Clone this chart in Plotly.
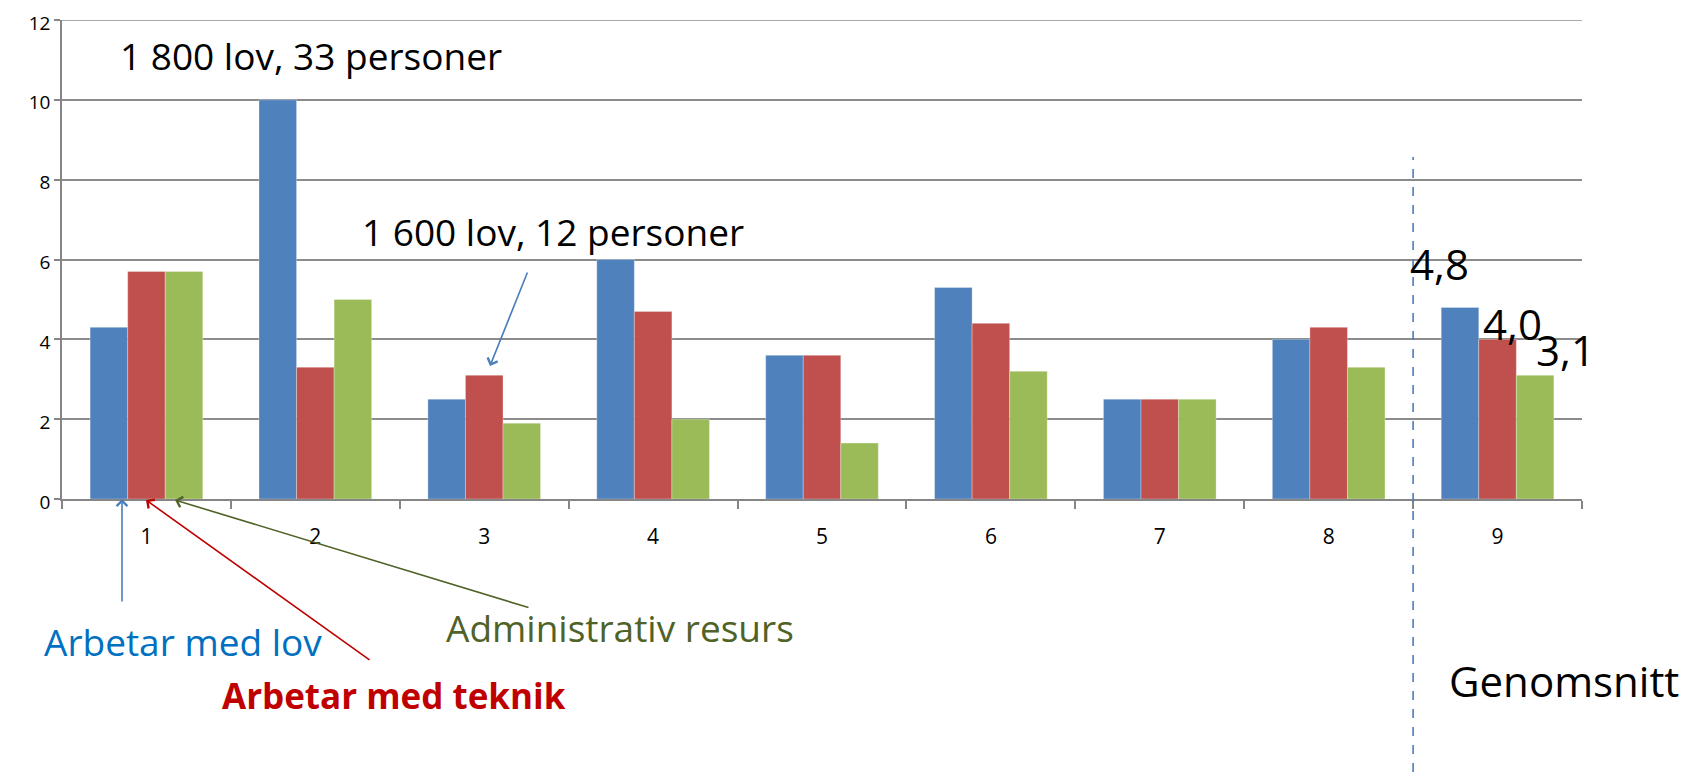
import plotly.graph_objects as go

categories = ["1", "2", "3", "4", "5", "6", "7", "8", "9"]
arbetar_lov = [4.3, 10.0, 2.5, 6.0, 3.6, 5.3, 2.5, 4.0, 4.8]
arbetar_teknik = [5.7, 3.3, 3.1, 4.7, 3.6, 4.4, 2.5, 4.3, 4.0]
admin_resurs = [5.7, 5.0, 1.9, 2.0, 1.4, 3.2, 2.5, 3.3, 3.1]
y_ticks = [0, 2, 4, 6, 8, 10, 12]

W, H = 1698, 779
OFF = 8  # page body margin
# plot area in page coordinates
PL, PR, PT, PB = 62, 1582, 20, 499
L, T = PL - OFF, PT - OFF
R, B = W - (PR - OFF), H - (PB - OFF)
PW, PH = PR - PL, PB - PT
FONT = "Open Sans, Noto Sans, sans-serif"
GRID = "#8c8c8c"


def px(xf):
    return (xf - PL) / PW


def py(yf):
    return (PB - yf) / PH


fig = go.Figure()
series = [
    ("Arbetar med lov", arbetar_lov, "#4f81bd"),
    ("Arbetar med teknik", arbetar_teknik, "#c0504d"),
    ("Administrativ resurs", admin_resurs, "#9bbb59"),
]
for name, vals, col in series:
    fig.add_trace(go.Bar(x=categories, y=vals, name=name,
                         marker=dict(color=col, line=dict(width=0.6, color="rgba(255,255,255,0.5)"))))

annotations = []


def txt(text, x, y, size, color="black", bold=False, xanchor="left"):
    annotations.append(dict(text=("<b>%s</b>" % text) if bold else text, x=px(x), y=py(y),
                            xref="paper", yref="paper", showarrow=False,
                            xanchor=xanchor, yanchor="middle",
                            font=dict(family=FONT, size=size, color=color)))


txt("1 800 lov, 33 personer", 118, 56, 37)
txt("1 600 lov, 12 personer", 360, 231, 37)
txt("Arbetar med lov", 42, 641, 37, "#0070c0")
txt("Arbetar med teknik", 220, 695, 35, "#c00000", bold=True)
txt("Administrativ resurs", 444, 627, 37, "#4f6228")
txt("Genomsnitt", 1447, 680, 42)


def arrow(hx, hy, tx, ty, color):
    annotations.append(dict(text="", x=px(hx), y=py(hy), xref="paper", yref="paper",
                            showarrow=True, ax=tx - hx, ay=ty - hy, axref="pixel", ayref="pixel",
                            arrowhead=4, arrowsize=1.3, arrowwidth=1.6, arrowcolor=color))


arrow(490, 366, 528, 271, "#4a7ebb")
arrow(122, 499, 122, 603, "#4a7ebb")
arrow(146, 500, 371, 661, "#c00000")
arrow(175, 500, 530, 608, "#4f6228")

# average data labels
avg_idx = len(categories) - 1
shifts = [(-90, 13), (-17, -15), (36, -5)]
for vals, (xs, ys) in zip([arbetar_lov, arbetar_teknik, admin_resurs], shifts):
    v = vals[avg_idx]
    annotations.append(dict(text=("%.1f" % v).replace(".", ","), x=avg_idx, y=v,
                            xref="x", yref="y", showarrow=False, xanchor="left", yanchor="bottom",
                            xshift=xs, yshift=ys, font=dict(family=FONT, size=42, color="black")))

fig.update_layout(
    width=W, height=H,
    margin=dict(l=L, r=R, t=T, b=B, pad=0, autoexpand=False),
    paper_bgcolor="white", plot_bgcolor="white",
    barmode="group", bargap=0.333, bargroupgap=0,
    showlegend=False,
    annotations=annotations,
    font=dict(family=FONT, color="black"),
    shapes=[
        dict(type="line", xref="x", yref="paper", x0=avg_idx - 0.5, x1=avg_idx - 0.5,
             y0=py(790), y1=py(157), line=dict(color="#4a7ebb", width=1.6, dash="dash")),
        dict(type="line", xref="paper", yref="y", x0=0, x1=1, y0=y_ticks[-1], y1=y_ticks[-1],
             layer="below", line=dict(color=GRID, width=1.5)),
    ],
)
fig.update_xaxes(type="category", categoryorder="array", categoryarray=categories,
                 range=[-0.5, len(categories) - 0.5], tickson="boundaries",
                 ticks="outside", ticklen=8, tickcolor="#868686", tickwidth=1.5,
                 showline=True, linecolor="#868686", linewidth=1.5, automargin=False,
                 showgrid=False, tickfont=dict(family=FONT, size=21, color="black"),
                 ticklabelstandoff=18)
fig.update_yaxes(range=[0, 12], tickvals=y_ticks, ticks="outside", ticklen=6,
                 tickcolor="#868686", tickwidth=1.5, showline=True, linecolor="#868686",
                 linewidth=1.5, showgrid=True, gridcolor=GRID, gridwidth=1.5,
                 zeroline=False, ticklabeloverflow="allow", automargin=False,
                 ticklabelshift=3,
                 tickfont=dict(family=FONT, size=19, color="black"))

fig.write_html("out.html")
